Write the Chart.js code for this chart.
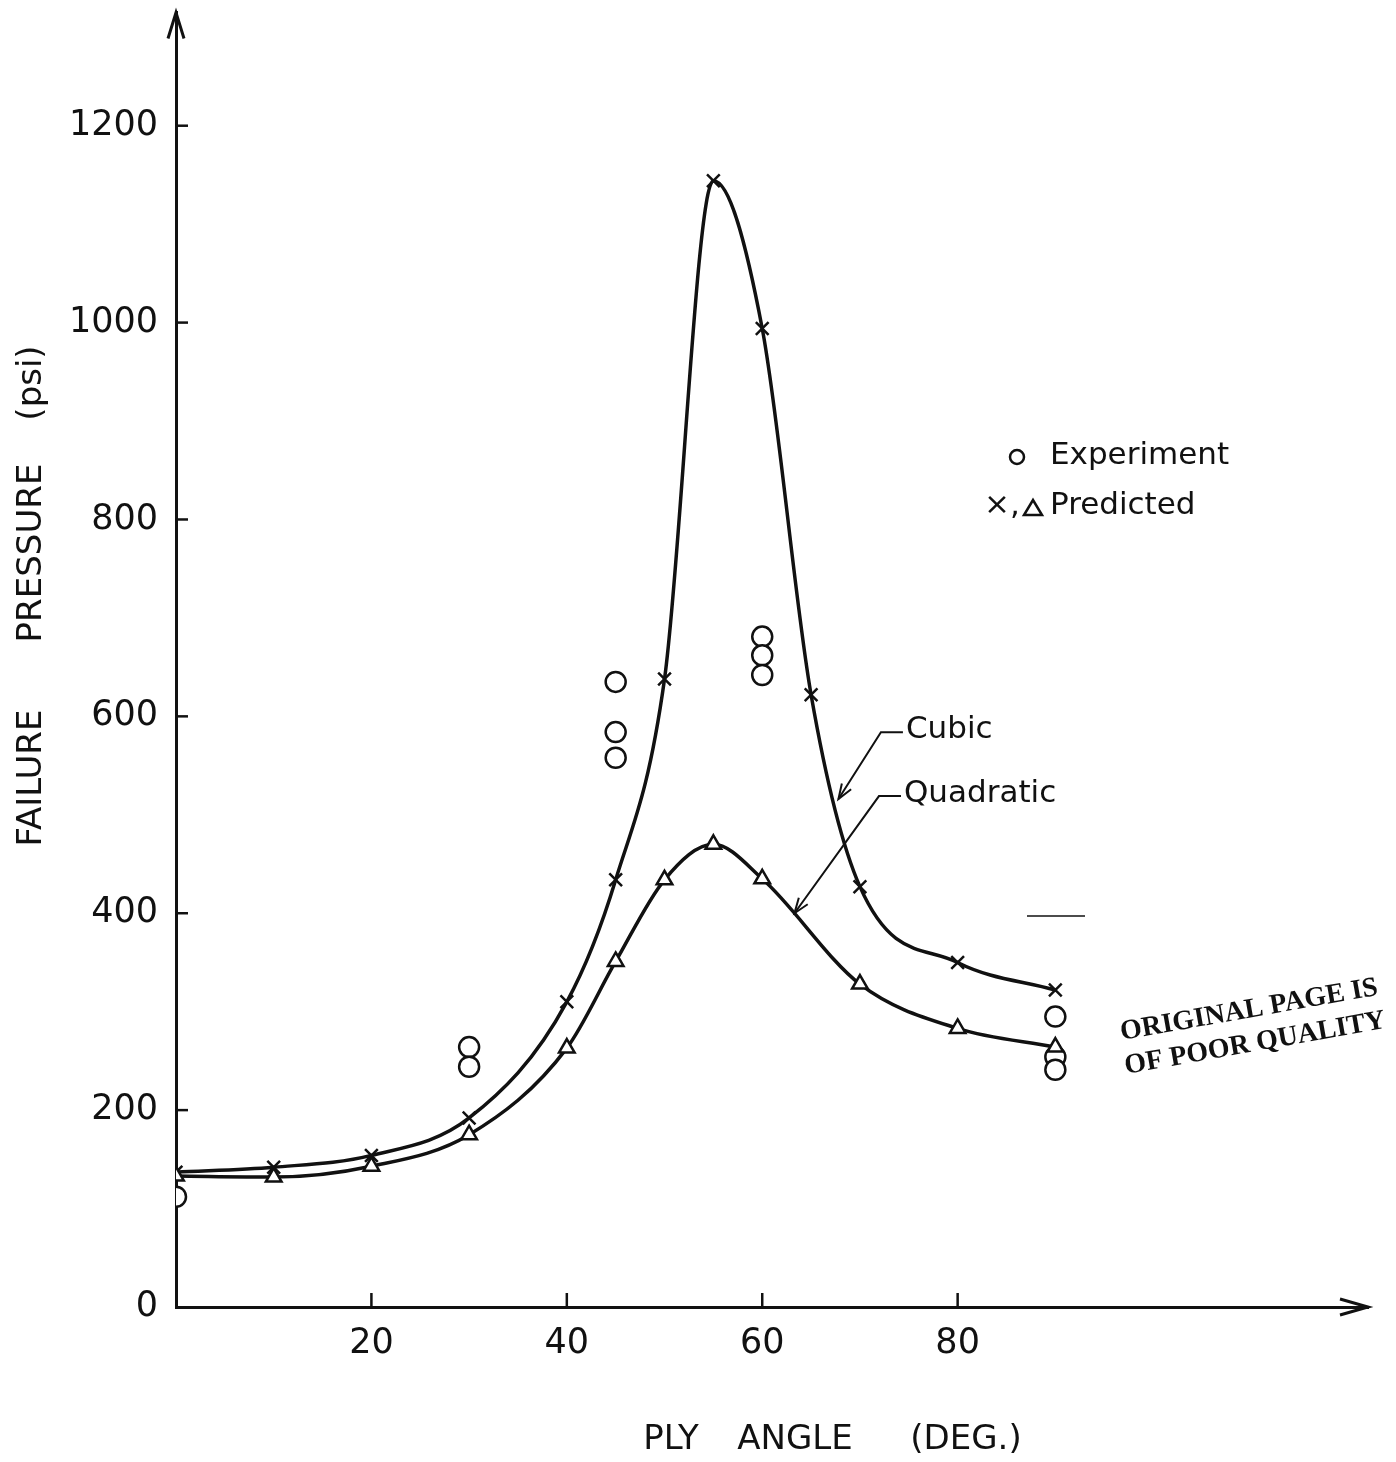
<!DOCTYPE html>
<html>
<head>
<meta charset="utf-8">
<script src="https://cdn.jsdelivr.net/npm/chart.js@4.4.0/dist/chart.umd.min.js"></script>
<style>
  html, body { margin: 0; padding: 0; background: #fff; }
  #wrap { width: 1396px; height: 1462px; }
</style>
</head>
<body>
<div id="wrap"><canvas id="chart" width="1396" height="1462"></canvas></div>
<script>
// Ply angles (deg) and failure pressures (psi)
const cubicAngles = [0, 10, 20, 30, 40, 45, 50, 55, 60, 65, 70, 80, 90];
const cubicPressure = [137, 142, 154, 192, 310, 434, 638, 1144, 994, 622, 427, 350, 322];

const quadAngles = [0, 10, 20, 30, 40, 45, 50, 55, 60, 70, 80, 90];
const quadPressure = [133, 132, 143, 175, 263, 351, 434, 470, 435, 328, 283, 264];

const expAngles = [0, 30, 30, 45, 45, 45, 60, 60, 60, 90, 90, 90];
const expPressure = [112, 264, 244, 635, 584, 558, 681, 662, 642, 295, 254, 241];

const xTickLabels = [20, 40, 60, 80];
const yTickLabels = [0, 200, 400, 600, 800, 1000, 1200];

function toPoints(xs, ys) {
    return xs.map((x, i) => ({ x: x, y: ys[i] }));
}

const INK = "#111";
const sans = "'DejaVu Sans', sans-serif";

// Arrowheads, inner tick marks, titles, legend and notes
const extras = {
    id: "extras",
    afterDraw(chart) {
        let ctx = chart.ctx;
        let xs = chart.scales.x, ys = chart.scales.y;
        let area = chart.chartArea;
        ctx.save();
        ctx.strokeStyle = INK;
        ctx.fillStyle = INK;
        ctx.lineWidth = 3;

        // axis arrowheads
        ctx.beginPath();
        ctx.moveTo(area.left - 8, area.top + 26);
        ctx.lineTo(area.left, area.top);
        ctx.lineTo(area.left + 8, area.top + 26);
        ctx.stroke();
        ctx.beginPath();
        ctx.moveTo(area.right - 28, area.bottom - 8);
        ctx.lineTo(area.right, area.bottom);
        ctx.lineTo(area.right - 28, area.bottom + 8);
        ctx.stroke();

        // inner ticks
        ctx.lineWidth = 2.5;
        yTickLabels.slice(1).forEach(v => {
            let py = ys.getPixelForValue(v);
            ctx.beginPath();
            ctx.moveTo(area.left, py);
            ctx.lineTo(area.left + 12, py);
            ctx.stroke();
        });
        xTickLabels.forEach(v => {
            let px = xs.getPixelForValue(v);
            ctx.beginPath();
            ctx.moveTo(px, area.bottom);
            ctx.lineTo(px, area.bottom - 14);
            ctx.stroke();
        });

        // axis titles
        ctx.font = "34px " + sans;
        ctx.textAlign = "center";
        ctx.textBaseline = "middle";
        ctx.fillText("PLY", 671, 1440);
        ctx.fillText("ANGLE", 795, 1440);
        ctx.fillText("(DEG.)", 966, 1440);
        ctx.save();
        ctx.translate(32, 0);
        ctx.rotate(-Math.PI / 2);
        ctx.fillText("FAILURE", -778, 0);
        ctx.fillText("PRESSURE", -553, 0);
        ctx.fillText("(psi)", -383, 0);
        ctx.restore();

        // legend
        ctx.font = "31px " + sans;
        ctx.textAlign = "left";
        ctx.lineWidth = 2.5;
        ctx.beginPath();
        ctx.arc(1017, 457, 7, 0, Math.PI * 2);
        ctx.stroke();
        ctx.fillText("Experiment", 1050, 456);
        ctx.fillText("×,", 984, 506);
        ctx.beginPath();
        ctx.moveTo(1024, 515);
        ctx.lineTo(1042, 515);
        ctx.lineTo(1033, 500);
        ctx.closePath();
        ctx.stroke();
        ctx.fillText("Predicted", 1050, 506);

        // curve labels with leader arrows (anchored in data coords)
        function leader(text, lx, ly, tx, ty) {
            let x0 = xs.getPixelForValue(lx), y0 = ys.getPixelForValue(ly);
            let x1 = xs.getPixelForValue(tx), y1 = ys.getPixelForValue(ty);
            ctx.font = "31px " + sans;
            ctx.textAlign = "left";
            ctx.fillText(text, x0 + 3, y0);
            ctx.lineWidth = 2;
            ctx.beginPath();
            ctx.moveTo(x0, y0 + 2);
            ctx.lineTo(x0 - 22, y0 + 2);
            ctx.lineTo(x1, y1);
            ctx.stroke();
            let ang = Math.atan2(y1 - (y0 + 2), x1 - (x0 - 22));
            ctx.beginPath();
            ctx.moveTo(x1 - 16 * Math.cos(ang - 0.35), y1 - 16 * Math.sin(ang - 0.35));
            ctx.lineTo(x1, y1);
            ctx.lineTo(x1 - 16 * Math.cos(ang + 0.35), y1 - 16 * Math.sin(ang + 0.35));
            ctx.stroke();
        }
        leader("Cubic", 74.4, 586, 67.8, 516);
        leader("Quadratic", 74.2, 521, 63.3, 400);

        // stray rule on the page
        ctx.lineWidth = 1.5;
        ctx.beginPath();
        ctx.moveTo(1027, 916);
        ctx.lineTo(1085, 916);
        ctx.stroke();

        // stamp
        ctx.save();
        ctx.translate(1252, 1027);
        ctx.rotate(-0.175);
        ctx.font = "bold 28px 'Liberation Serif', serif";
        ctx.textAlign = "center";
        ctx.fillText("ORIGINAL PAGE IS", 0, -17);
        ctx.fillText("OF POOR QUALITY", 0, 17);
        ctx.restore();

        ctx.restore();
    }
};

let ctx = document.getElementById("chart").getContext("2d");
new Chart(ctx, {
    type: "scatter",
    data: {
        datasets: [
            {
                label: "Quadratic",
                data: toPoints(quadAngles, quadPressure),
                showLine: true,
                cubicInterpolationMode: "monotone",
                borderColor: INK,
                borderWidth: 3.5,
                backgroundColor: "#fff",
                pointStyle: "triangle",
                pointRadius: 9,
                pointBorderWidth: 2.5
            },
            {
                label: "Cubic",
                data: toPoints(cubicAngles, cubicPressure),
                showLine: true,
                cubicInterpolationMode: "monotone",
                borderColor: INK,
                borderWidth: 3.5,
                backgroundColor: "#fff",
                pointStyle: "crossRot",
                pointRadius: 9,
                pointBorderWidth: 2.5
            },
            {
                label: "Experiment",
                data: toPoints(expAngles, expPressure),
                borderColor: INK,
                backgroundColor: "#fff",
                pointStyle: "circle",
                pointRadius: 10,
                pointBorderWidth: 2.5
            }
        ]
    },
    options: {
        responsive: false,
        animation: false,
        layout: {
            padding: { left: 0, right: 28, top: 8, bottom: 0 }
        },
        plugins: {
            legend: { display: false },
            tooltip: { enabled: false }
        },
        scales: {
            x: {
                type: "linear",
                min: 0,
                max: 122,
                grid: { display: false, drawTicks: false },
                border: { color: INK, width: 3 },
                afterBuildTicks: (scale) => {
                    scale.ticks = xTickLabels.map(v => ({ value: v }));
                },
                ticks: {
                    padding: 16,
                    color: INK,
                    font: { family: "DejaVu Sans", size: 35 },
                    callback: (v) => String(v)
                },
                afterFit: (scale) => {
                    scale.height = 1462 - 1307;
                    scale.paddingLeft = 0;
                    scale.paddingRight = 0;
                }
            },
            y: {
                type: "linear",
                min: 0,
                max: 1315,
                grid: { display: false, drawTicks: false },
                border: { color: INK, width: 3 },
                afterBuildTicks: (scale) => {
                    scale.ticks = yTickLabels.map(v => ({ value: v }));
                },
                ticks: {
                    padding: 18,
                    color: INK,
                    font: { family: "DejaVu Sans", size: 35 },
                    callback: (v) => String(v)
                },
                afterFit: (scale) => {
                    scale.width = 176;
                    scale.paddingTop = 0;
                    scale.paddingBottom = 0;
                }
            }
        }
    },
    plugins: [extras]
});
</script>
</body>
</html>
